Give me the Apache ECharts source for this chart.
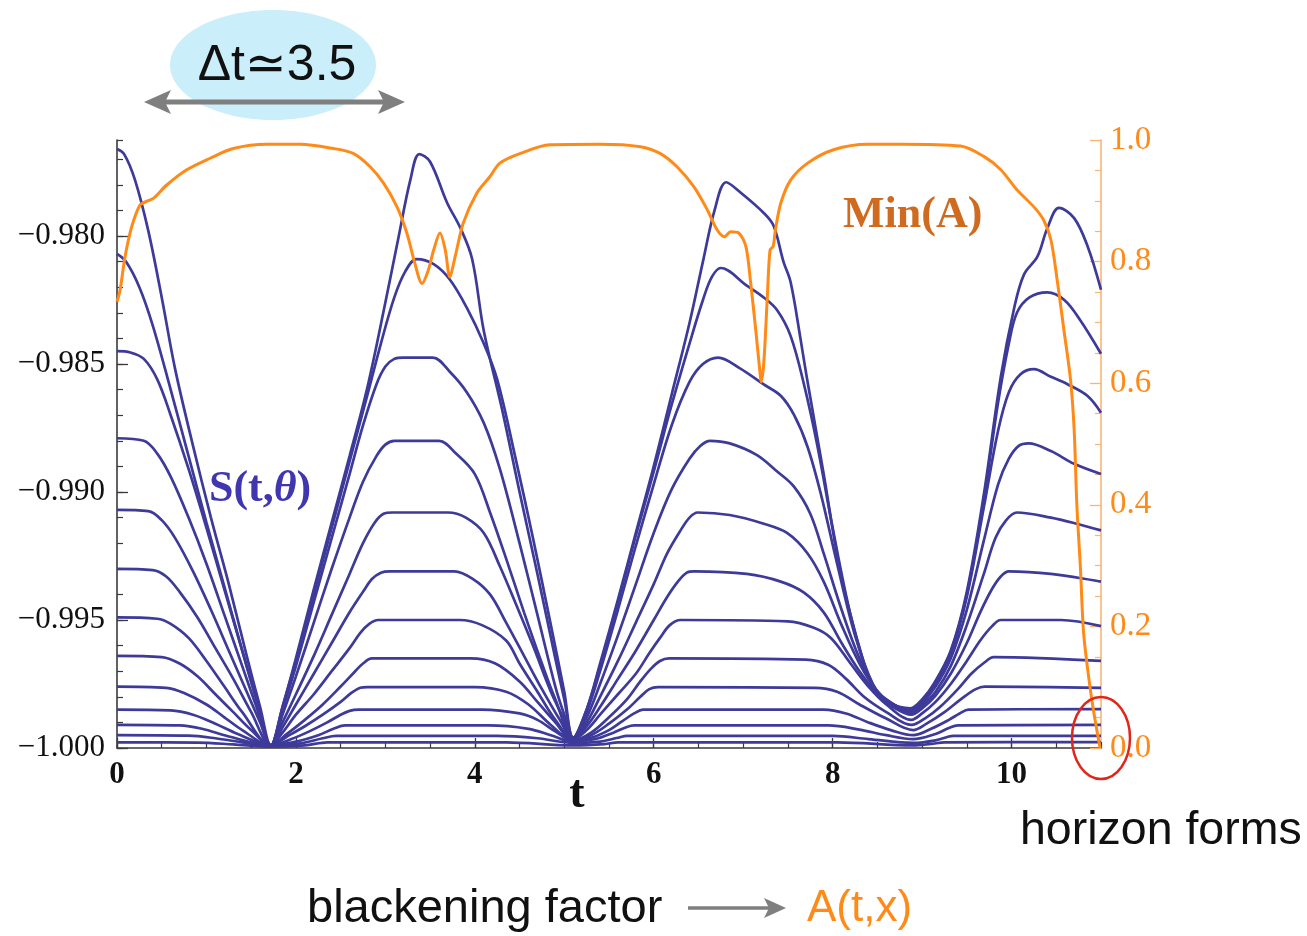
<!DOCTYPE html>
<html>
<head>
<meta charset="utf-8">
<script src="https://cdn.jsdelivr.net/npm/echarts@6/dist/echarts.min.js"></script>
<style>
html,body{margin:0;padding:0;background:#fff;}
#chart{width:1307px;height:936px;}
</style>
</head>
<body>
<div id="chart"></div>
<script>
// ---- data: S(t,theta) curves, [t, S] ----
const s1 = [[0,-0.9766],[0.08,-0.9768],[0.2,-0.9778],[0.35,-0.9798],[0.5,-0.9824],[0.65,-0.9852],[0.85,-0.9882],[1.05,-0.9910],[1.25,-0.9936],[1.45,-0.9964],[1.6,-0.9984],[1.72,-0.9999],
[1.85,-0.9984],[2.0,-0.9965],[2.2,-0.9938],[2.4,-0.9912],[2.6,-0.9886],[2.8,-0.9859],[3.0,-0.9826],[3.15,-0.9800],[3.28,-0.9778],[3.38,-0.9768],
[3.5,-0.9771],[3.69,-0.9787],[3.84,-0.9797],[3.97,-0.9809],[4.1,-0.9837],[4.3,-0.9867],[4.5,-0.9900],[4.7,-0.9932],[4.9,-0.9965],[5.0,-0.9981],[5.1,-0.9996],
[5.25,-0.9985],[5.4,-0.9967],[5.6,-0.9942],[5.8,-0.9916],[6.0,-0.9890],[6.2,-0.9862],[6.4,-0.9834],[6.55,-0.9810],[6.68,-0.9790],[6.81,-0.9779],
[6.97,-0.9783],[7.23,-0.9791],[7.34,-0.9796],[7.45,-0.9810],[7.53,-0.9818],[7.64,-0.9840],[7.71,-0.9855],[7.9,-0.9893],[8.09,-0.9932],[8.31,-0.9962],[8.46,-0.9977],[8.61,-0.9982],[8.87,-0.99845],
[9.0,-0.9981],[9.13,-0.9975],[9.32,-0.9962],[9.5,-0.9939],[9.69,-0.9901],[9.88,-0.9855],[10.03,-0.9828],[10.14,-0.9815],[10.29,-0.9808],[10.4,-0.9797],[10.53,-0.9789],[10.7,-0.9793],[10.85,-0.9804],[11.0,-0.9821]];
const s2 = [[0,-0.9807],[0.1,-0.9810],[0.25,-0.9820],[0.4,-0.9835],[0.6,-0.9860],[0.8,-0.9886],[1.0,-0.9912],[1.2,-0.9937],[1.4,-0.9962],[1.55,-0.9980],[1.72,-0.9999],
[1.85,-0.9984],[2.0,-0.9966],[2.2,-0.9940],[2.4,-0.9914],[2.6,-0.9888],[2.8,-0.9862],[2.95,-0.9842],[3.1,-0.9824],[3.22,-0.9814],[3.35,-0.9809],
[3.54,-0.9811],[3.72,-0.9817],[3.91,-0.9828],[4.1,-0.9842],[4.25,-0.9856],[4.45,-0.9886],[4.65,-0.9918],[4.85,-0.9952],[5.0,-0.9978],[5.1,-0.9996],
[5.25,-0.9985],[5.4,-0.9968],[5.6,-0.9943],[5.8,-0.9917],[6.0,-0.9892],[6.2,-0.9866],[6.4,-0.9842],[6.55,-0.9825],[6.65,-0.9816],[6.75,-0.98125],
[7.04,-0.98194],[7.23,-0.9824],[7.38,-0.9829],[7.53,-0.9839],[7.68,-0.9858],[7.83,-0.9882],[8.0,-0.9914],[8.2,-0.9948],[8.4,-0.9972],[8.55,-0.9980],[8.87,-0.9985],
[9.0,-0.99815],[9.13,-0.99755],[9.32,-0.99625],[9.5,-0.9940],[9.69,-0.9903],[9.85,-0.9865],[9.97,-0.9842],[10.06,-0.9830],[10.2,-0.9824],[10.4,-0.9822],[10.59,-0.9825],[10.77,-0.9833],[11.0,-0.9846]];
const s3 = [[0,-0.9845],[0.15,-0.98455],[0.3,-0.9848],[0.45,-0.9856],[0.6,-0.9870],[0.8,-0.9891],[1.0,-0.9914],[1.2,-0.9938],[1.4,-0.9962],[1.55,-0.9980],[1.72,-0.9999],
[1.85,-0.9985],[2.0,-0.9968],[2.2,-0.9943],[2.4,-0.9918],[2.6,-0.9893],[2.75,-0.9874],[2.9,-0.9858],[3.0,-0.9851],[3.1,-0.9848],[3.2,-0.98475],
[3.53,-0.98475],[3.72,-0.9853],[3.91,-0.9861],[4.1,-0.9873],[4.28,-0.9891],[4.5,-0.9920],[4.7,-0.9948],[4.9,-0.9976],[5.0,-0.9987],[5.1,-0.9996],
[5.25,-0.9986],[5.4,-0.9970],[5.6,-0.9946],[5.8,-0.9921],[6.0,-0.9897],[6.2,-0.9874],[6.4,-0.9857],[6.55,-0.9850],[6.72,-0.98475],
[6.96,-0.98516],[7.23,-0.9858],[7.42,-0.98624],[7.57,-0.9870],[7.72,-0.98824],[7.87,-0.9901],[8.05,-0.9928],[8.25,-0.9956],[8.45,-0.9975],[8.6,-0.9981],[8.87,-0.99855],
[9.0,-0.9982],[9.13,-0.9976],[9.32,-0.9963],[9.5,-0.9941],[9.69,-0.9906],[9.85,-0.9876],[9.97,-0.9861],[10.1,-0.9854],[10.25,-0.9852],[10.44,-0.9855],[10.63,-0.9858],[10.85,-0.98625],[11.0,-0.9869]];
const s4 = [[0,-0.9879],[0.3,-0.9880],[0.45,-0.9885],[0.6,-0.9894],[0.8,-0.9910],[1.0,-0.9928],[1.2,-0.9948],[1.4,-0.9968],[1.55,-0.9983],[1.72,-0.9999],
[1.85,-0.9987],[2.0,-0.9972],[2.2,-0.9951],[2.4,-0.9930],[2.6,-0.9910],[2.75,-0.9896],[2.9,-0.9886],[3.0,-0.98815],[3.1,-0.9880],
[3.6,-0.9880],[3.79,-0.9885],[4.0,-0.9893],[4.17,-0.9908],[4.35,-0.9926],[4.55,-0.9947],[4.75,-0.9967],[4.9,-0.9981],[5.1,-0.9996],
[5.25,-0.9988],[5.4,-0.9975],[5.6,-0.9956],[5.8,-0.9936],[6.0,-0.9916],[6.2,-0.9899],[6.4,-0.9887],[6.52,-0.9882],[6.63,-0.9880],
[6.85,-0.9881],[7.15,-0.98855],[7.38,-0.9892],[7.57,-0.9898],[7.75,-0.99085],[7.9,-0.9924],[8.1,-0.9946],[8.3,-0.9965],[8.5,-0.9978],[8.65,-0.99825],[8.87,-0.9986],
[9.0,-0.99825],[9.15,-0.9976],[9.32,-0.9965],[9.5,-0.9946],[9.69,-0.9919],[9.85,-0.9897],[9.97,-0.9887],[10.08,-0.9882],[10.19,-0.9881],[10.44,-0.9884],[10.7,-0.9889],[11.0,-0.9893]];
const s5 = [[0,-0.9907],[0.35,-0.99075],[0.5,-0.9911],[0.65,-0.9918],[0.85,-0.9931],[1.05,-0.9946],[1.25,-0.9962],[1.45,-0.9978],[1.6,-0.9990],[1.72,-0.9999],
[1.85,-0.9990],[2.0,-0.9979],[2.2,-0.9964],[2.4,-0.9948],[2.6,-0.9932],[2.75,-0.9920],[2.88,-0.9912],[2.98,-0.99085],[3.08,-0.9908],
[3.7,-0.9908],[3.9,-0.9910],[4.1,-0.9916],[4.28,-0.9929],[4.45,-0.9943],[4.65,-0.9960],[4.85,-0.9978],[5.0,-0.9989],[5.1,-0.9996],
[5.25,-0.9990],[5.4,-0.9980],[5.6,-0.9966],[5.8,-0.9951],[6.0,-0.9936],[6.15,-0.9924],[6.3,-0.9915],[6.4,-0.9910],[6.49,-0.9908],
[6.85,-0.9909],[7.23,-0.99124],[7.49,-0.9916],[7.72,-0.9924],[7.9,-0.9935],[8.1,-0.9952],[8.3,-0.9967],[8.5,-0.9978],[8.7,-0.9984],[8.88,-0.99865],
[9.0,-0.99835],[9.15,-0.9978],[9.32,-0.9968],[9.5,-0.9952],[9.69,-0.9932],[9.82,-0.9918],[9.94,-0.9911],[10.06,-0.9908],[10.44,-0.9910],[10.74,-0.99125],[11.0,-0.9915]];
const s6 = [[0,-0.9930],[0.4,-0.99305],[0.55,-0.9933],[0.7,-0.9939],[0.9,-0.9949],[1.1,-0.9961],[1.3,-0.9973],[1.5,-0.9986],[1.72,-0.9999],
[1.85,-0.9992],[2.0,-0.9983],[2.2,-0.9971],[2.4,-0.9959],[2.6,-0.9947],[2.75,-0.9939],[2.85,-0.9934],[2.95,-0.99315],[3.05,-0.9931],
[3.77,-0.9931],[3.98,-0.9934],[4.17,-0.9940],[4.35,-0.9951],[4.55,-0.9964],[4.75,-0.9977],[4.95,-0.9989],[5.1,-0.99965],
[5.25,-0.99915],[5.4,-0.9984],[5.6,-0.9973],[5.8,-0.9962],[6.0,-0.9950],[6.15,-0.9941],[6.27,-0.9935],[6.37,-0.99315],[6.45,-0.9931],
[7.04,-0.9932],[7.42,-0.9935],[7.68,-0.99393],[7.9,-0.9947],[8.1,-0.9959],[8.3,-0.9970],[8.5,-0.9979],[8.7,-0.99845],[8.88,-0.9987],
[9.0,-0.99845],[9.15,-0.99795],[9.32,-0.9971],[9.5,-0.9959],[9.65,-0.9947],[9.78,-0.9938],[9.88,-0.9933],[9.97,-0.9931],[10.44,-0.9932],[11.0,-0.9935]];
const s7 = [[0,-0.9949],[0.45,-0.99495],[0.6,-0.99515],[0.8,-0.9957],[1.0,-0.9966],[1.2,-0.9976],[1.4,-0.9986],[1.72,-0.9999],
[1.85,-0.9994],[2.0,-0.9987],[2.2,-0.9979],[2.4,-0.9970],[2.6,-0.9961],[2.72,-0.9955],[2.82,-0.99515],[2.92,-0.9950],
[3.83,-0.9950],[4.08,-0.9952],[4.35,-0.9958],[4.5,-0.9967],[4.7,-0.9978],[4.9,-0.9989],[5.1,-0.99965],
[5.25,-0.9993],[5.4,-0.9987],[5.6,-0.9979],[5.8,-0.9971],[5.95,-0.9963],[6.07,-0.9957],[6.18,-0.9952],[6.3,-0.9950],
[7.5,-0.99505],[7.79,-0.9953],[7.98,-0.9957],[8.2,-0.9967],[8.4,-0.9976],[8.6,-0.9983],[8.88,-0.9989],
[9.0,-0.99865],[9.15,-0.9982],[9.32,-0.9975],[9.5,-0.9966],[9.65,-0.9958],[9.78,-0.99525],[9.88,-0.9950],[10.55,-0.9950],[11.0,-0.99524]];
const s8 = [[0,-0.9964],[0.5,-0.99645],[0.7,-0.9967],[0.9,-0.9972],[1.1,-0.9979],[1.3,-0.9986],[1.5,-0.9993],[1.72,-0.9999],
[1.9,-0.99945],[2.1,-0.9989],[2.3,-0.9983],[2.5,-0.9976],[2.65,-0.99705],[2.75,-0.9967],[2.85,-0.9965],
[3.95,-0.9965],[4.23,-0.9967],[4.5,-0.9974],[4.7,-0.9982],[4.9,-0.9990],[5.1,-0.9997],
[5.3,-0.9994],[5.5,-0.9988],[5.7,-0.9981],[5.85,-0.9974],[5.97,-0.9969],[6.07,-0.9966],[6.17,-0.9965],
[7.7,-0.99655],[7.95,-0.99675],[8.15,-0.9973],[8.35,-0.9980],[8.6,-0.9986],[8.88,-0.9991],
[9.05,-0.9988],[9.2,-0.9984],[9.4,-0.9977],[9.55,-0.9971],[9.7,-0.99665],[9.8,-0.99645],[11.0,-0.9966]];
const s9 = [[0,-0.9976],[0.55,-0.99765],[0.75,-0.99785],[1.0,-0.9983],[1.2,-0.9988],[1.4,-0.9993],[1.72,-0.9999],
[1.9,-0.99955],[2.1,-0.99915],[2.3,-0.9987],[2.5,-0.9982],[2.62,-0.99785],[2.72,-0.99765],[2.8,-0.99762],
[4.0,-0.99762],[4.35,-0.9978],[4.6,-0.9983],[4.85,-0.9991],[5.1,-0.9997],
[5.3,-0.9995],[5.5,-0.99905],[5.7,-0.9985],[5.85,-0.9980],[5.95,-0.9977],[6.05,-0.99762],
[7.8,-0.99765],[8.05,-0.9978],[8.3,-0.9983],[8.6,-0.99885],[8.9,-0.9993],
[9.05,-0.99905],[9.25,-0.9986],[9.45,-0.99805],[9.6,-0.9977],[9.7,-0.9976],[11.0,-0.99765]];
const s10 = [[0,-0.9985],[0.6,-0.99853],[0.85,-0.9987],[1.1,-0.99905],[1.35,-0.99945],[1.72,-0.9999],
[1.95,-0.99965],[2.15,-0.99935],[2.35,-0.9990],[2.5,-0.9987],[2.6,-0.99855],[2.7,-0.9985],
[4.08,-0.9985],[4.5,-0.99865],[4.7,-0.9989],[4.9,-0.99935],[5.1,-0.99972],
[5.3,-0.9996],[5.5,-0.9993],[5.65,-0.99895],[5.78,-0.99865],[5.88,-0.9985],
[7.9,-0.9985],[8.15,-0.99865],[8.4,-0.9990],[8.65,-0.9993],[8.9,-0.9995],
[9.1,-0.99925],[9.3,-0.9989],[9.42,-0.99865],[9.52,-0.9985],[11.0,-0.99848]];
const s11 = [[0,-0.9991],[0.7,-0.99912],[0.95,-0.99925],[1.25,-0.99955],[1.72,-0.9999],
[2.0,-0.99975],[2.25,-0.9995],[2.42,-0.99925],[2.55,-0.99912],
[4.15,-0.99912],[4.6,-0.99925],[4.85,-0.9995],[5.1,-0.99975],
[5.35,-0.99965],[5.55,-0.9994],[5.7,-0.99918],[5.78,-0.99912],
[7.95,-0.99912],[8.3,-0.99928],[8.6,-0.9995],[8.9,-0.99965],
[9.15,-0.99945],[9.3,-0.99922],[9.4,-0.99912],[11.0,-0.9991]];
const s12 = [[0,-0.9995],[0.8,-0.99952],[1.1,-0.99962],[1.4,-0.99978],[1.72,-0.99992],
[2.05,-0.99982],[2.3,-0.99962],[2.45,-0.99953],
[4.25,-0.99953],[4.7,-0.99962],[5.1,-0.9998],
[5.4,-0.99975],[5.6,-0.9996],[5.7,-0.99953],
[8.0,-0.99953],[8.4,-0.99965],[8.9,-0.9998],
[9.15,-0.9997],[9.3,-0.99955],[9.35,-0.99953],[11.0,-0.99953]];
const s13 = [[0,-0.99978],[0.9,-0.99979],[1.3,-0.99986],[1.72,-0.99995],
[2.1,-0.9999],[2.35,-0.99978],
[4.35,-0.99978],[5.1,-0.9999],
[5.45,-0.99985],[5.6,-0.99978],
[8.05,-0.99978],[8.9,-0.9999],
[9.1,-0.99984],[9.25,-0.99978],[11.0,-0.99977]];

// Min(A) on right axis, [t, A]
const minA = [[0,0.734],[0.034,0.753],[0.09,0.808],[0.164,0.857],[0.257,0.893],[0.33,0.899],[0.406,0.904],[0.556,0.926],[0.78,0.951],[1.04,0.97],[1.3,0.986],[1.675,0.993],[2.05,0.993],[2.42,0.986],[2.64,0.978],[2.83,0.956],[2.98,0.929],[3.13,0.89],[3.24,0.847],[3.33,0.797],[3.41,0.764],[3.48,0.786],[3.54,0.819],[3.61,0.847],[3.67,0.819],[3.72,0.775],[3.78,0.808],[3.87,0.863],[4.02,0.912],[4.17,0.94],[4.28,0.962],[4.51,0.978],[4.84,0.992],[5.4,0.993],[5.85,0.989],[6.07,0.978],[6.26,0.956],[6.45,0.923],[6.6,0.885],[6.71,0.852],[6.79,0.841],[6.86,0.849],[6.95,0.847],[7.03,0.825],[7.08,0.77],[7.14,0.688],[7.185,0.622],[7.2,0.602],[7.23,0.633],[7.27,0.742],[7.3,0.819],[7.335,0.825],[7.36,0.852],[7.42,0.896],[7.53,0.934],[7.72,0.962],[8.01,0.984],[8.39,0.993],[8.76,0.993],[9.43,0.99],[9.69,0.973],[9.88,0.951],[10.06,0.918],[10.25,0.89],[10.36,0.868],[10.44,0.836],[10.51,0.77],[10.585,0.688],[10.66,0.605],[10.7,0.523],[10.73,0.4],[10.77,0.296],[10.805,0.19],[10.86,0.119],[10.915,0.0625],[10.99,0.0]];

// tick labels
const xTicks = [0,2,4,6,8,10];
const yLeftTicks = [-1,-0.995,-0.99,-0.985,-0.98];
const yRightTicks = [0,0.2,0.4,0.6,0.8,1.0];

const BLUE = '#3d3a9a';
const ORANGE = '#ff8a17';
const AXIS_OR = '#f9b473';
const SERIF = '"Liberation Serif","DejaVu Serif",serif';
const SANS = '"Liberation Sans","DejaVu Sans",sans-serif';

const curves = [s1,s2,s3,s4,s5,s6,s7,s8,s9,s10,s11,s12,s13];
const series = curves.map(d => ({
  type:'line', data:d, xAxisIndex:0, yAxisIndex:0, smooth:0.35,
  symbol:'none', silent:true, lineStyle:{color:BLUE,width:2.7}, z:2
}));
series.push({
  type:'line', data:minA, xAxisIndex:0, yAxisIndex:2, smooth:0.3,
  symbol:'none', silent:true, lineStyle:{color:ORANGE,width:3}, z:4
});

const chart = echarts.init(document.getElementById('chart'), null, {renderer:'canvas'});
chart.setOption({
  animation:false,
  backgroundColor:'#ffffff',
  grid:{left:117,right:206,top:140,bottom:188,containLabel:false},
  xAxis:[
    {type:'value',min:0,max:11,interval:2,position:'bottom',
     axisLine:{show:true,onZero:false,lineStyle:{color:'#3a3a3a',width:1.6}},
     axisTick:{show:true,inside:true,length:10,customValues:xTicks,lineStyle:{color:'#3a3a3a',width:1.3}},
     axisLabel:{customValues:xTicks,margin:11,color:'#111',fontFamily:SERIF,fontWeight:'bold',fontSize:31,
       formatter:v => (v%2===0 && v<=10) ? String(v) : ''},
     splitLine:{show:false}},
    {type:'value',min:0,max:11,interval:0.5,position:'bottom',
     axisLine:{show:false},axisTick:{show:true,inside:true,length:6,lineStyle:{color:'#3a3a3a',width:1.2}},
     axisLabel:{show:false},splitLine:{show:false}}
  ],
  yAxis:[
    {type:'value',min:-1,max:-0.97625,interval:0.005,position:'left',
     axisLine:{show:true,onZero:false,lineStyle:{color:'#3a3a3a',width:1.6}},
     axisTick:{show:true,inside:true,length:11,customValues:yLeftTicks,lineStyle:{color:'#3a3a3a',width:1.3}},
     axisLabel:{customValues:yLeftTicks,margin:12,color:'#111',fontFamily:SERIF,fontSize:31,
       formatter:v => '\u2212' + Math.abs(v).toFixed(3)},
     splitLine:{show:false}},
    {type:'value',min:-1,max:-0.97625,interval:0.001,position:'left',
     axisLine:{show:false},axisTick:{show:true,inside:true,length:6,lineStyle:{color:'#3a3a3a',width:1.2}},
     axisLabel:{show:false},splitLine:{show:false}},
    {type:'value',min:0,max:1,interval:0.2,position:'right',
     axisLine:{show:true,onZero:false,lineStyle:{color:AXIS_OR,width:1.6}},
     axisTick:{show:true,inside:true,length:11,lineStyle:{color:AXIS_OR,width:1.3}},
     minorTick:{show:true,splitNumber:4,length:6,lineStyle:{color:AXIS_OR,width:1.2}},
     axisLabel:{margin:9,color:ORANGE,fontFamily:SERIF,fontSize:33,formatter:v => v.toFixed(1)},
     splitLine:{show:false},minorSplitLine:{show:false}}
  ],
  series:series,
  graphic:[
    {type:'ellipse',shape:{cx:273,cy:65,rx:103,ry:55},style:{fill:'#cbeefb'},z:1},
    {type:'text',x:277,y:66,style:{text:'\u0394t\u22433.5',font:'50px '+SANS,fill:'#111',align:'center',verticalAlign:'middle'},z:3},
    {type:'line',shape:{x1:160,y1:102,x2:390,y2:102},style:{stroke:'#7f7f7f',lineWidth:5},z:2},
    {type:'polygon',shape:{points:[[144,102],[171,90],[165,102],[171,114]]},style:{fill:'#7f7f7f'},z:2},
    {type:'polygon',shape:{points:[[405,102],[378,90],[384,102],[378,114]]},style:{fill:'#7f7f7f'},z:2},
    {type:'text',x:209,y:490,style:{text:'{a|S(t,}{b|\u03b8}{a|)}',rich:{
        a:{fontFamily:SERIF,fontSize:44,fontWeight:'bold',fill:'#3f36b0',color:'#3f36b0'},
        b:{fontFamily:SERIF,fontSize:44,fontWeight:'bold',fontStyle:'italic',fill:'#3f36b0',color:'#3f36b0'}},
        align:'left',verticalAlign:'middle'},z:5},
    {type:'text',x:843,y:216,style:{text:'Min(A)',font:'bold 44px '+SERIF,fill:'#cf6a1f',align:'left',verticalAlign:'middle'},z:5},
    {type:'ellipse',shape:{cx:1101,cy:738,rx:29,ry:41},style:{fill:'none',stroke:'#e0261a',lineWidth:2.5},z:6},
    {type:'text',x:1020,y:831,style:{text:'horizon forms',font:'46.5px '+SANS,fill:'#111',align:'left',verticalAlign:'middle'},z:5},
    {type:'text',x:307,y:909,style:{text:'blackening factor',font:'47px '+SANS,fill:'#111',align:'left',verticalAlign:'middle'},z:5},
    {type:'line',shape:{x1:688,y1:908,x2:770,y2:908},style:{stroke:'#7f7f7f',lineWidth:3.5},z:5},
    {type:'polygon',shape:{points:[[786,908],[764,898],[769,908],[764,918]]},style:{fill:'#7f7f7f'},z:5},
    {type:'text',x:807,y:909,style:{text:'A(t,x)',font:'44px '+SANS,fill:ORANGE,align:'left',verticalAlign:'middle'},z:5},
    {type:'text',x:577,y:795,style:{text:'t',font:'bold 46px '+SERIF,fill:'#111',align:'center',verticalAlign:'middle'},z:5}
  ]
});
</script>
</body>
</html>
